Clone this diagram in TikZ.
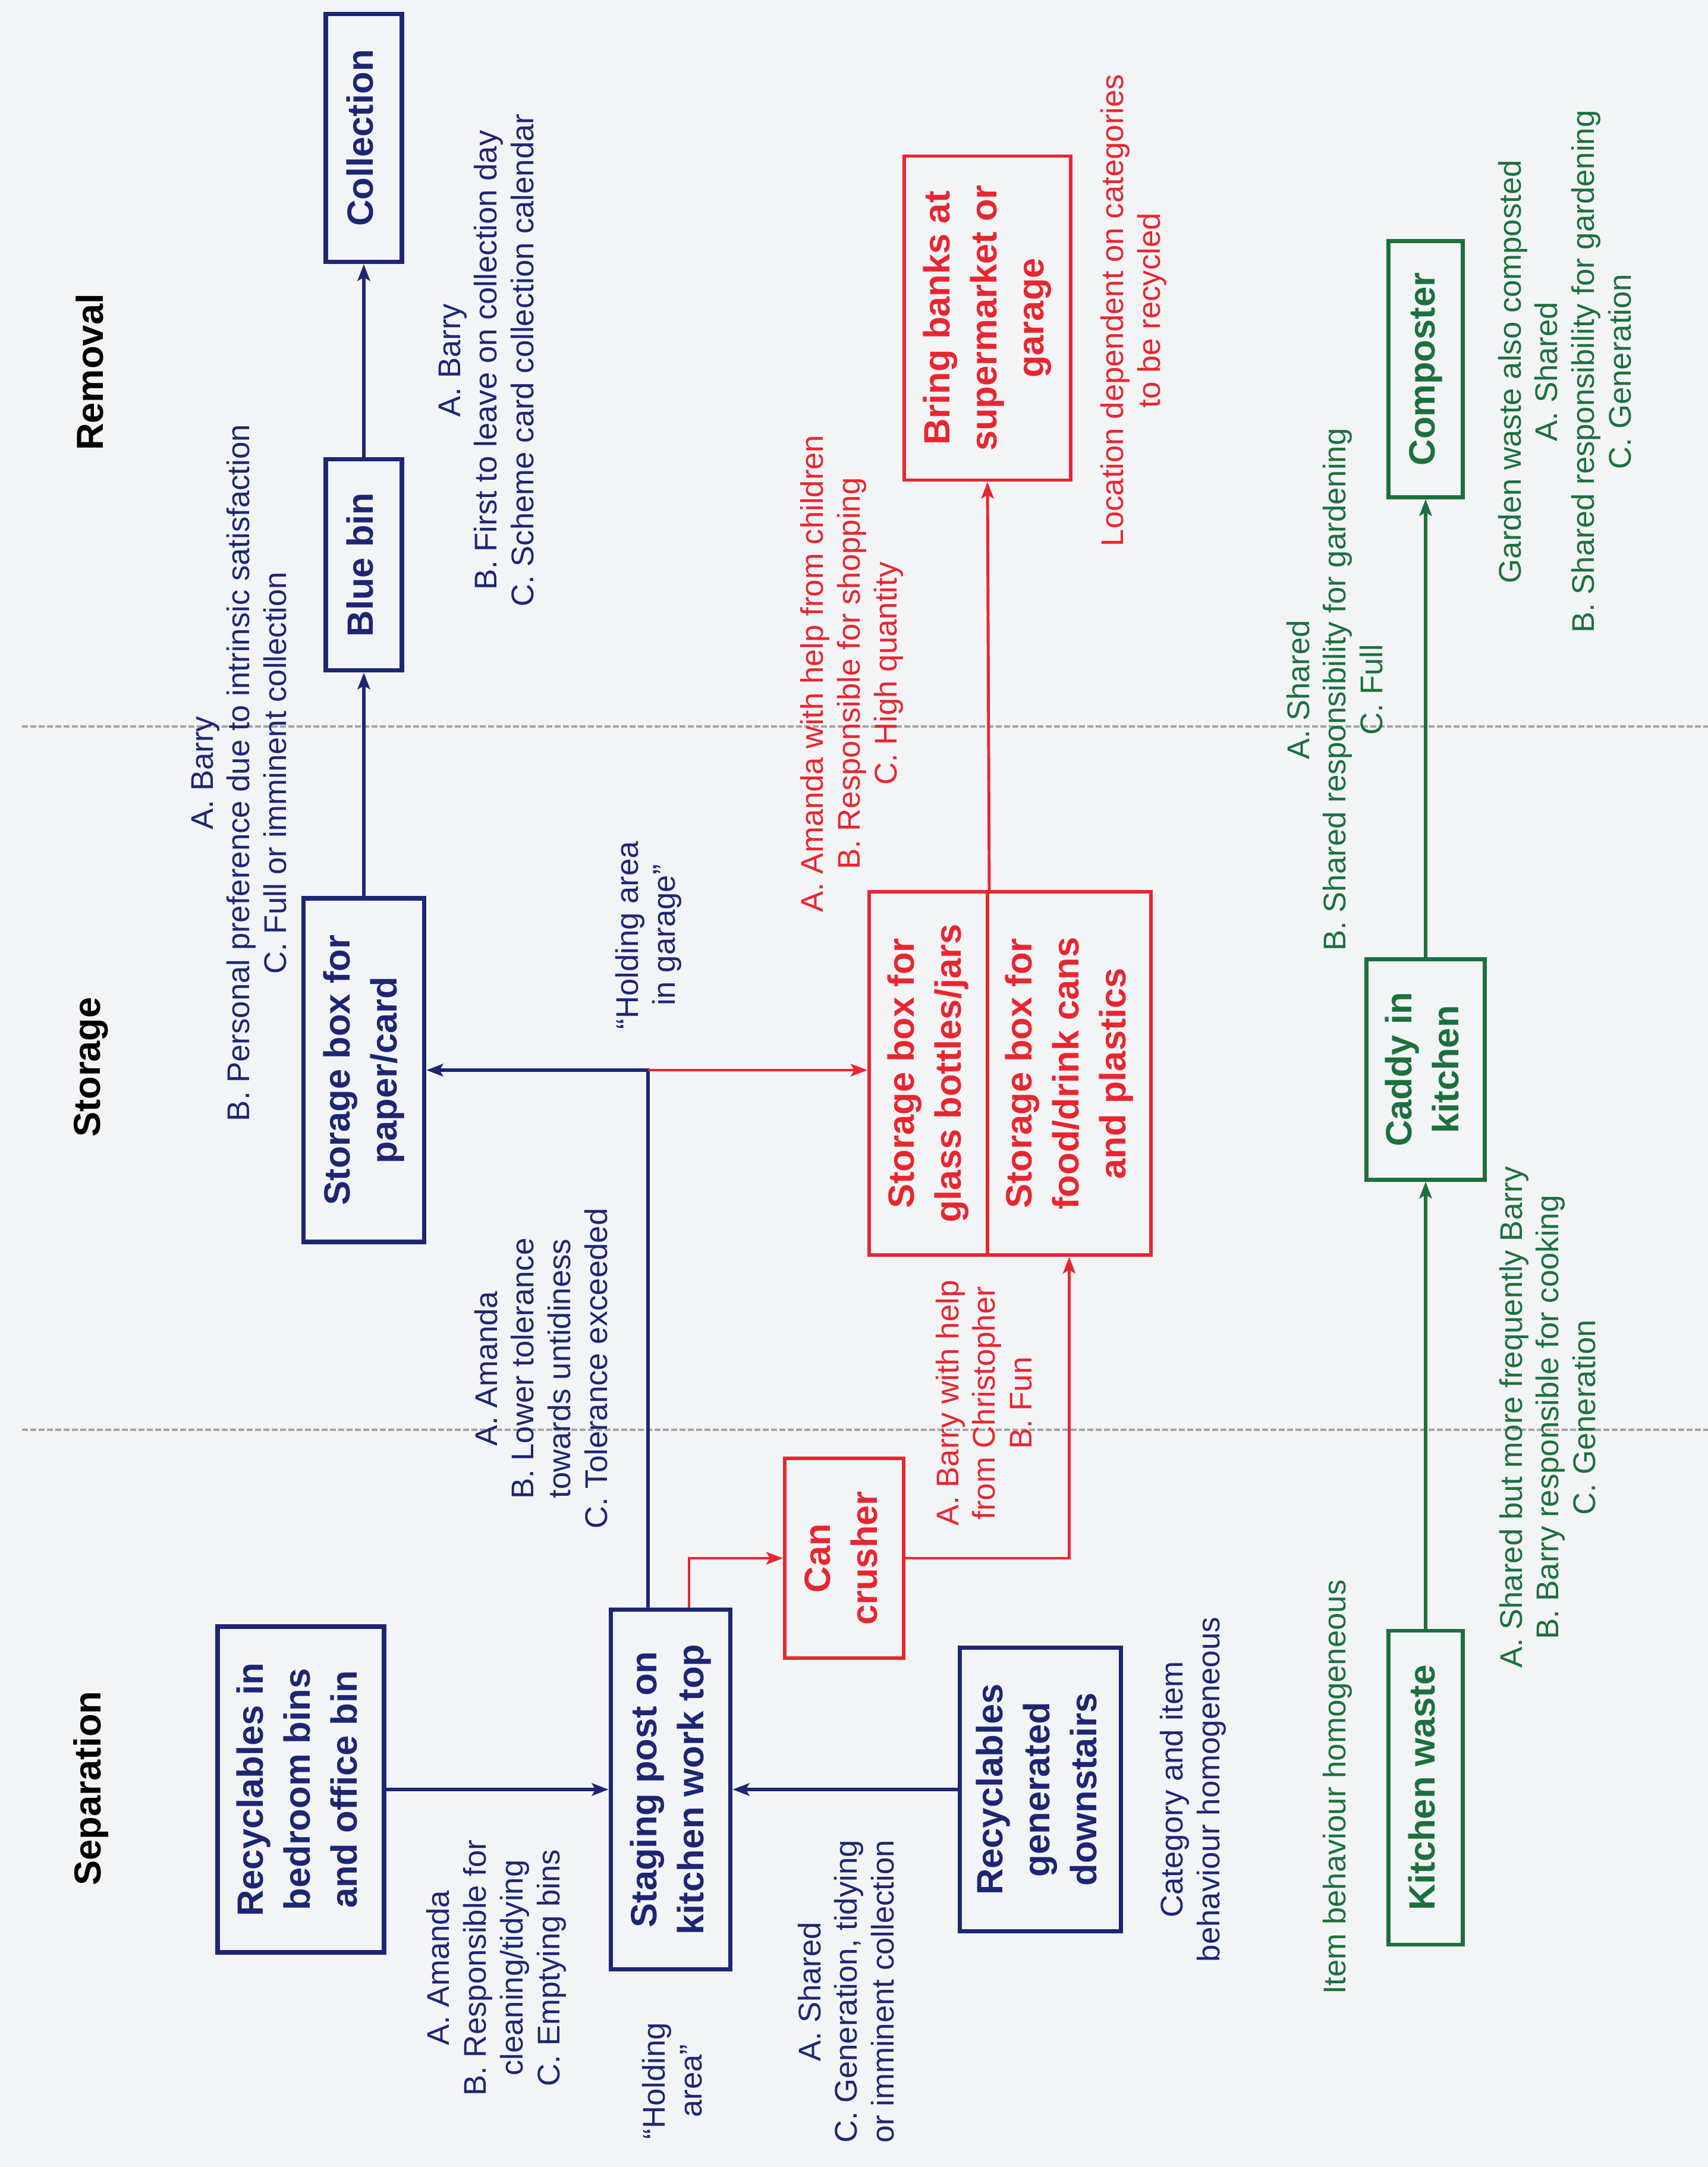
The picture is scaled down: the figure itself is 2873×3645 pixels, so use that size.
\documentclass[tikz,border=0pt]{standalone}
\usepackage{fontspec}
\setmainfont{Liberation Sans}
\usetikzlibrary{arrows.meta}

\definecolor{navyc}{RGB}{30,38,115}
\definecolor{redc}{RGB}{232,38,48}
\definecolor{greenc}{RGB}{28,112,62}
\definecolor{paperbg}{RGB}{243,244,246}
\definecolor{rulec}{RGB}{165,165,165}

% box label: lines stacked, then turned to read upwards
\newcommand{\uptext}[1]{\rotatebox{90}{\begin{tabular}{@{}c@{}}#1\end{tabular}}}

\tikzset{
  boxbase/.style={draw, rectangle, inner sep=0pt,
    font=\fontsize{17.5}{22.5}\selectfont\bfseries},
  navybox/.style={boxbase, draw=navyc, text=navyc, line width=2.2pt},
  redbox/.style={boxbase, draw=redc, text=redc, line width=1.7pt},
  greenbox/.style={boxbase, draw=greenc, text=greenc, line width=1.8pt},
  note/.style={rotate=90, align=center, inner sep=0pt,
    font=\fontsize{15}{17.6}\selectfont},
  navynote/.style={note, text=navyc},
  rednote/.style={note, text=redc},
  greennote/.style={note, text=greenc},
  phase/.style={rotate=90, inner sep=0pt,
    font=\fontsize{18}{22}\selectfont\bfseries, text=black},
  arr/.style={-{Stealth[length=2.8mm, width=2.1mm, inset=0.6mm]}},
  navyline/.style={draw=navyc, line width=1.7pt, arr},
  redline/.style={draw=redc, line width=1.4pt, arr},
  greenline/.style={draw=greenc, line width=1.6pt, arr},
  separator/.style={draw=rulec, line width=0.9pt, dash pattern=on 1mm off 0.4mm},
}

\begin{document}
\begin{tikzpicture}[x=0.1mm, y=-0.1mm]
  % page
  \fill[paperbg] (0,0) rectangle (2873,3645);
  \useasboundingbox (0,0) rectangle (2873,3645);

  % phase separators
  \draw[separator] (37,1222) -- (2873,1222);
  \draw[separator] (37,2405) -- (2873,2405);

  % phase headings
  \node[phase] (hremoval) at (151,626) {Removal};
  \node[phase] (hstorage) at (153,1795) {Storage};
  \node[phase] (hseparation) at (153,3008) {Separation};

  % paper / card stream
  \node[navybox, minimum width=12.8mm, minimum height=41.7mm] (coll) at (612,232) {\uptext{Collection}};
  \node[navybox, minimum width=12.8mm, minimum height=35.5mm] (bluebin) at (612,950) {\uptext{Blue bin}};
  \node[navybox, minimum width=20.3mm, minimum height=57.8mm] (paper) at (612,1800) {\uptext{Storage box for\\paper/card}};
  \node[navybox, minimum width=28mm, minimum height=54.8mm] (bedroom) at (506,3010) {\uptext{Recyclables in\\bedroom bins\\and office bin}};
  \node[navybox, minimum width=20.1mm, minimum height=60.5mm] (staging) at (1128,3010) {\uptext{Staging post on\\kitchen work top}};
  \node[navybox, minimum width=27.1mm, minimum height=47.7mm] (downstairs) at (1750,3010) {\uptext{Recyclables\\generated\\downstairs}};

  % glass / cans / plastics stream
  \node[redbox, minimum width=20mm, minimum height=33.6mm] (crusher) at (1420,2621) {\uptext{Can\\crusher}};
  \node[redbox, minimum width=19.9mm, minimum height=61.1mm] (glass) at (1561.5,1805.5) {\uptext{Storage box for\\glass bottles/jars}};
  \node[redbox, minimum width=27.5mm, minimum height=61.1mm] (cans) at (1798.5,1805.5) {\uptext{Storage box for\\food/drink cans\\and plastics}};
  \node[redbox, minimum width=28mm, minimum height=54.5mm] (bank) at (1661,535) {\uptext{Bring banks at\\supermarket or\\garage}};

  % kitchen waste stream
  \node[greenbox, minimum width=12.5mm, minimum height=43.1mm] (composter) at (2398,621) {\uptext{Composter}};
  \node[greenbox, minimum width=19.9mm, minimum height=37.1mm] (caddy) at (2398,1799) {\uptext{Caddy in\\kitchen}};
  \node[greenbox, minimum width=12.5mm, minimum height=52.8mm] (kwaste) at (2398,3007) {\uptext{Kitchen waste}};

  % turning points
  \coordinate (hub) at (1090,1800);
  \coordinate (cturn) at (1159,2621);

  % connectors
  \draw[navyline] (bluebin.north) -- (coll.south);
  \draw[navyline] (paper.north) -- (bluebin.south);
  \draw[navyline] (staging.north -| hub) |- (paper.east);
  \draw[navyline] (bedroom.east) -- (staging.west);
  \draw[navyline] (downstairs.west) -- (staging.east);
  \draw[redline] (hub) -- (hub -| glass.west);
  \draw[redline] (staging.north -| cturn) |- (crusher.west);
  \draw[redline] (crusher.east) -| (cans.south);
  \draw[redline] (glass.north east) -- (bank.south);
  \draw[greenline] (kwaste.north) -- (caddy.south);
  \draw[greenline] (caddy.north) -- (composter.south);

  % annotations
  \node[navynote] (n1) at (818,606) {A. Barry\\B. First to leave on collection day\\C. Scheme card collection calendar};
  \node[navynote] (n2) at (402,1300) {A. Barry\\B. Personal preference due to intrinsic satisfaction\\C. Full or imminent collection};
  \node[navynote] (n3) at (910,2302) {A. Amanda\\B. Lower tolerance\\towards untidiness\\C. Tolerance exceeded};
  \node[navynote] (n4) at (835,3310) {A. Amanda\\B. Responsible for\\cleaning/tidying\\C. Emptying bins};
  \node[navynote] (n5) at (1131,3500) {“Holding\\area”};
  \node[navynote] (n6) at (1423,3350) {A. Shared\\C. Generation, tidying\\or imminent collection};
  \node[navynote] (n7) at (1091,1573) {“Holding area\\in garage”};
  \node[navynote] (n8) at (2007,3010) {Category and item\\behaviour homogeneous};

  \node[rednote] (r1) at (1433,1133) {A. Amanda with help from children\\B. Responsible for shopping\\C. High quantity};
  \node[rednote] (r2) at (1655,2360) {A. Barry with help\\from Christopher\\B. Fun};
  \node[rednote] (r3) at (1907,522) {Location dependent on categories\\to be recycled};

  \node[greennote] (g1) at (2245,1160) {A. Shared\\B. Shared responsibility for gardening\\C. Full};
  \node[greennote] (g2) at (2632,625) {Garden waste also composted\\A. Shared\\B. Shared responsibility for gardening\\C. Generation};
  \node[greennote] (g3) at (2603,2384) {A. Shared but more frequently Barry\\B. Barry responsible for cooking\\C. Generation};
  \node[greennote] (g4) at (2250,3006) {Item behaviour homogeneous};
\end{tikzpicture}
\end{document}
